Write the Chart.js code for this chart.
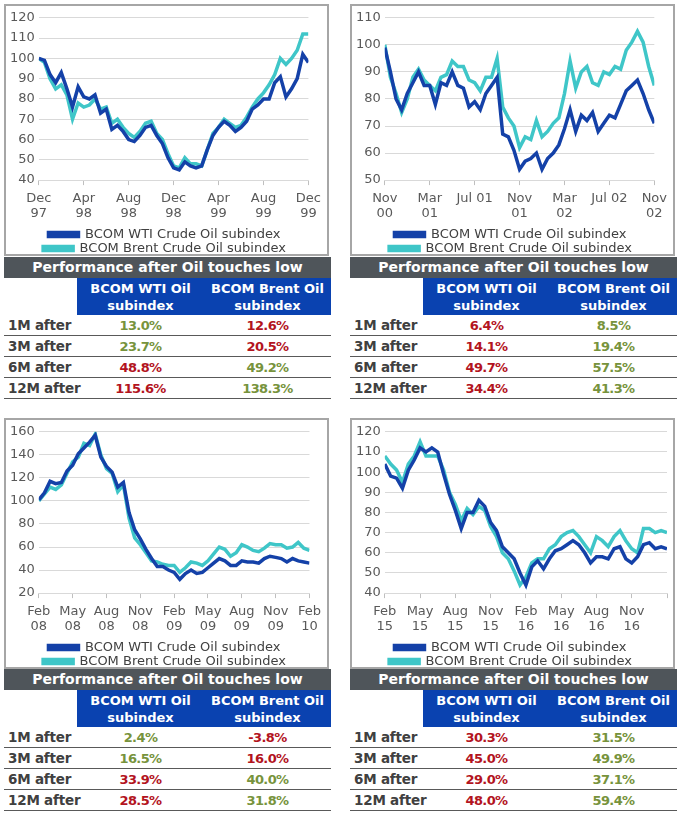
<!DOCTYPE html>
<html>
<head>
<meta charset="utf-8">
<script src="https://cdn.jsdelivr.net/npm/chart.js@4.4.1/dist/chart.umd.min.js"></script>
<style>
  body { margin: 0; background: #fff; width: 684px; height: 820px; position: relative; overflow: hidden; font-family: "DejaVu Sans", sans-serif; }
  .box { position: absolute; border: 2px solid #a6a6a6; box-sizing: border-box; background: #fff; }
  .box canvas { display: block; }
  .tbl { position: absolute; width: 327px; }
  .ttl { height: 21px; line-height: 21px; background: #4f555a; color: #fff; font-weight: bold; font-size: 14px; text-align: center; }
  .hdr { height: 37px; margin-left: 73px; background: #0a42b0; display: flex; }
  .hdr div { flex: 1; color: #fff; font-weight: bold; font-size: 13px; line-height: 17px; text-align: center; padding-top: 2px; }
  .row { height: 20px; border-bottom: 1px solid #595959; display: flex; align-items: center; }
  .row .lab { width: 73px; padding-left: 4px; box-sizing: border-box; color: #404040; font-weight: bold; font-size: 13.5px; letter-spacing: -0.2px; white-space: nowrap; }
  .row .val { flex: 1; text-align: center; font-weight: bold; font-size: 13px; letter-spacing: -0.6px; }
</style>
</head>
<body>
<script>
// half-month steps, 24 months per chart
const wti1 = [100, 99, 92, 88, 93, 85, 76, 86, 81, 80, 82, 73, 75, 65, 67, 64, 60, 59, 62, 66, 67, 62, 58, 51, 46,
  45, 49, 47, 46, 47, 55, 62, 66, 69, 67, 64, 66, 69, 75, 77, 80, 80, 88, 91, 81, 85, 90, 102, 98];
const brent1 = [100, 98, 90, 85, 87, 82, 70, 78, 76, 77, 80, 75, 76, 68, 70, 66, 63, 61, 64, 68, 69, 63, 60, 53, 47,
  46, 51, 48, 48, 47, 55, 63, 66, 70, 68, 66, 67, 71, 76, 80, 83, 87, 92, 100, 97, 100, 104, 112, 112];

const wti2 = [99, 90, 80, 76, 82, 86, 90, 85, 85, 78, 86, 85, 90, 85, 84, 77, 79, 76, 82, 85, 88, 67, 66, 61, 54,
  57, 58, 60, 54, 58, 60, 63, 69, 76, 68, 74, 72, 75, 68, 71, 74, 73, 78, 83, 85, 87, 82, 76, 71];
const brent2 = [100, 88, 82, 75, 80, 88, 91, 87, 85, 83, 88, 89, 94, 92, 92, 87, 86, 83, 88, 88, 95, 77, 73, 70, 62,
  66, 65, 72, 66, 68, 71, 73, 82, 94, 84, 90, 92, 86, 85, 90, 89, 92, 91, 98, 101, 105, 101, 92, 85];

const wti3 = [101, 107, 117, 115, 116, 126, 131, 141, 146, 151, 157, 138, 130, 125, 112, 116, 90, 75, 67, 58, 50, 43, 43, 40, 38,
  32, 37, 40, 37, 38, 42, 46, 50, 48, 44, 44, 48, 47, 47, 46, 50, 52, 51, 50, 47, 50, 48, 47, 46];
const brent3 = [100, 106, 112, 110, 114, 124, 134, 138, 150, 148, 158, 140, 128, 124, 108, 114, 85, 68, 62, 55, 48, 47, 45, 44, 44,
  38, 42, 47, 46, 44, 48, 54, 60, 58, 52, 55, 62, 60, 57, 56, 59, 63, 62, 62, 59, 60, 64, 59, 57];

const wti4 = [104, 98, 97, 92, 101, 106, 112, 110, 112, 110, 99, 89, 81, 72, 80, 80, 86, 83, 75, 71, 63, 60, 57, 50, 44,
  53, 56, 52, 57, 61, 62, 64, 66, 64, 60, 55, 58, 58, 57, 62, 63, 57, 55, 58, 64, 65, 62, 63, 62];
const brent4 = [108, 104, 101, 95, 104, 108, 115, 108, 108, 108, 101, 90, 84, 76, 82, 79, 83, 81, 73, 68, 60, 57, 51, 44, 48,
  55, 57, 57, 62, 64, 68, 70, 71, 68, 64, 60, 68, 66, 63, 68, 71, 66, 62, 60, 72, 72, 70, 71, 70];

const ticks1 = ['Dec 97', 'Apr 98', 'Aug 98', 'Dec 98', 'Apr 99', 'Aug 99', 'Dec 99'];
const ticks2 = ['Nov 00', 'Mar 01', 'Jul 01', 'Nov 01', 'Mar 02', 'Jul 02', 'Nov 02'];
const ticks3 = ['Feb 08', 'May 08', 'Aug 08', 'Nov 08', 'Feb 09', 'May 09', 'Aug 09', 'Nov 09', 'Feb 10'];
const ticks4 = ['Feb 15', 'May 15', 'Aug 15', 'Nov 15', 'Feb 16', 'May 16', 'Aug 16', 'Nov 16', ''];

const rowLabels = ['1M after', '3M after', '6M after', '12M after'];
const perfWti1 = [13.0, 23.7, 48.8, 115.6];
const perfBrent1 = [12.6, 20.5, 49.2, 138.3];
const perfWti2 = [6.4, 14.1, 49.7, 34.4];
const perfBrent2 = [8.5, 19.4, 57.5, 41.3];
const perfWti3 = [2.4, 16.5, 33.9, 28.5];
const perfBrent3 = [-3.8, 16.0, 40.0, 31.8];
const perfWti4 = [30.3, 45.0, 29.0, 48.0];
const perfBrent4 = [31.5, 49.9, 37.1, 59.4];

const panels = [
  { left: 4, top: 4, h: 252, tblTop: 257, wti: wti1, brent: brent1, ticks: ticks1, step: 4, ymin: 40, ymax: 120, ystep: 10, pw: perfWti1, pb: perfBrent1 },
  { left: 350, top: 4, h: 252, tblTop: 257, wti: wti2, brent: brent2, ticks: ticks2, step: 4, ymin: 50, ymax: 110, ystep: 10, pw: perfWti2, pb: perfBrent2 },
  { left: 4, top: 418, h: 251, tblTop: 669, wti: wti3, brent: brent3, ticks: ticks3, step: 3, ymin: 20, ymax: 160, ystep: 20, pw: perfWti3, pb: perfBrent3 },
  { left: 350, top: 418, h: 251, tblTop: 669, wti: wti4, brent: brent4, ticks: ticks4, step: 3, ymin: 40, ymax: 120, ystep: 10, pw: perfWti4, pb: perfBrent4 }
];

const WTI_COLOR = '#1441a8';
const BRENT_COLOR = '#3fc6c8';
const GREEN = '#77933c';
const RED = '#b3141e';

Chart.defaults.font.family = '"DejaVu Sans", sans-serif';
Chart.defaults.font.size = 13;
Chart.defaults.color = '#595959';

const toPts = arr => arr.map((v, i) => ({ x: i * 0.5, y: v }));

panels.forEach(p => {
  const box = document.createElement('div');
  box.className = 'box';
  box.style.left = p.left + 'px';
  box.style.top = p.top + 'px';
  box.style.width = '325px';
  box.style.height = p.h + 'px';
  const cv = document.createElement('canvas');
  cv.width = 321;
  cv.height = p.h - 4;
  cv.style.width = '321px';
  cv.style.height = (p.h - 4) + 'px';
  box.appendChild(cv);
  document.body.appendChild(box);

  new Chart(cv, {
    type: 'line',
    data: {
      datasets: [
        { label: 'BCOM WTI Crude Oil subindex', data: toPts(p.wti), borderColor: WTI_COLOR, backgroundColor: WTI_COLOR, borderWidth: 3.5, pointRadius: 0, tension: 0 },
        { label: 'BCOM Brent Crude Oil subindex', data: toPts(p.brent), borderColor: BRENT_COLOR, backgroundColor: BRENT_COLOR, borderWidth: 3.5, pointRadius: 0, tension: 0 }
      ]
    },
    options: {
      responsive: false,
      animation: false,
      layout: { padding: { top: 4, right: 4, left: 0, bottom: -11 } },
      plugins: {
        tooltip: { enabled: false },
        legend: {
          position: 'bottom',
          labels: { boxWidth: 30, boxHeight: 4, padding: 1, color: '#404040', font: { size: 13, lineHeight: 1 } }
        }
      },
      scales: {
        x: {
          type: 'linear',
          min: 0,
          max: 24,
          grid: { drawOnChartArea: false, drawTicks: true, tickLength: 5, tickColor: '#bfbfbf' },
          border: { display: true, color: '#d9d9d9' },
          ticks: {
            stepSize: p.step,
            autoSkip: false,
            maxRotation: 0,
            padding: 6,
            font: { size: 13, lineHeight: 1.15 },
            callback: v => {
              const t = p.ticks[Math.round(v / p.step)] || '';
              return t.startsWith('Jul') ? t : t.split(' ');
            }
          }
        },
        y: {
          min: p.ymin,
          max: p.ymax,
          grid: { color: '#d9d9d9', drawTicks: false },
          border: { display: false },
          ticks: { stepSize: p.ystep, padding: 4, font: { size: 13 } }
        }
      }
    }
  });

  // performance table
  const tbl = document.createElement('div');
  tbl.className = 'tbl';
  tbl.style.left = p.left + 'px';
  tbl.style.top = p.tblTop + 'px';
  let html = '<div class="ttl">Performance after Oil touches low</div>' +
    '<div class="hdr"><div>BCOM WTI Oil<br>subindex</div><div>BCOM Brent Oil<br>subindex</div></div>';
  rowLabels.forEach((lab, i) => {
    const w = p.pw[i], b = p.pb[i];
    const cw = w > b ? GREEN : RED;
    const cb = b > w ? GREEN : RED;
    html += '<div class="row"><div class="lab">' + lab + '</div>' +
      '<div class="val" style="color:' + cw + '">' + w.toFixed(1) + '%</div>' +
      '<div class="val" style="color:' + cb + '">' + b.toFixed(1) + '%</div></div>';
  });
  tbl.innerHTML = html;
  document.body.appendChild(tbl);
});
</script>
</body>
</html>
